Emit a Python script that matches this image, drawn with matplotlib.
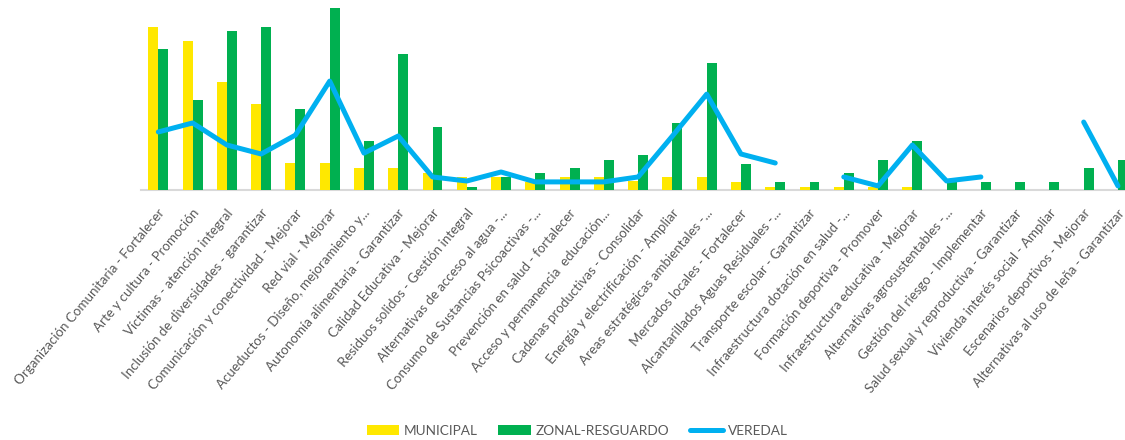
import numpy as np
import matplotlib
matplotlib.use("Agg")
import matplotlib.pyplot as plt
from matplotlib.patches import Patch
from matplotlib.lines import Line2D
from matplotlib.transforms import ScaledTranslation

categories = [
    "Organización Comunitaria - Fortalecer",
    "Arte y cultura - Promoción",
    "Víctimas - atención integral",
    "Inclusión de diversidades - garantizar",
    "Comunicación y conectividad - Mejorar",
    "Red vial - Mejorar",
    "Acueductos - Diseño, mejoramiento y...",
    "Autonomía alimentaria - Garantizar",
    "Calidad Educativa - Mejorar",
    "Residuos solidos - Gestión integral",
    "Alternativas de acceso al agua -...",
    "Consumo de Sustancias Psicoactivas -...",
    "Prevención en salud - fortalecer",
    "Acceso y permanencia  educación...",
    "Cadenas productivas - Consolidar",
    "Energía y electrificación - Ampliar",
    "Areas estratégicas ambientales -...",
    "Mercados locales - Fortalecer",
    "Alcantarillados Aguas Residuales -...",
    "Transporte escolar - Garantizar",
    "Infraestructura dotación en salud -...",
    "Formación deportiva - Promover",
    "Infraestructura educativa - Mejorar",
    "Alternativas agrosustentables -...",
    "Gestión del riesgo - Implementar",
    "Salud sexual y reproductiva - Garantizar",
    "Vivienda interés social - Ampliar",
    "Escenarios deportivos - Mejorar",
    "Alternativas al uso de leña - Garantizar",
]

municipal = [36.2, 33.1, 24.0, 19.1, 6.0, 6.0, 4.9, 4.9, 3.8, 2.9,
             2.9, 1.8, 2.9, 2.9, 2.0, 2.9, 2.9, 1.8, 0.7, 0.7,
             0.7, 0.7, 0.7, 0, 0, 0, 0, 0, 0]

zonal_resguardo = [31.3, 20.0, 35.3, 36.2, 18.0, 40.4, 10.9, 30.2, 14.0, 0.7,
                   2.9, 3.8, 4.9, 6.7, 7.8, 14.9, 28.2, 5.8, 1.8, 1.8,
                   3.8, 6.7, 10.9, 1.8, 1.8, 1.8, 1.8, 4.9, 6.7]

veredal = [12.9, 14.9, 10.0, 8.0, 12.2, 24.2, 8.2, 12.0, 2.9, 2.0,
           4.0, 1.8, 1.8, 1.8, 2.9, 12.0, 21.3, 8.0, 6.0, np.nan,
           2.9, 0.9, 10.0, 2.0, 2.9, np.nan, np.nan, 15.1, 0.9]

series_names = ["MUNICIPAL", "ZONAL-RESGUARDO", "VEREDAL"]

YELLOW = "#FFE800"
GREEN = "#00B050"
BLUE = "#00B0F0"
TEXT = "#595959"

plt.rcParams['font.family'] = ['Lato', 'DejaVu Sans']

W, H = 1125, 440
fig = plt.figure(figsize=(W / 100, H / 100), dpi=100)
left_px, right_px, base_px = 141.2, 1135.1, 190
ax = fig.add_axes([left_px / W, (H - base_px) / H, (right_px - left_px) / W, base_px / H])

x = np.arange(len(categories))
bw = 0.29
ax.bar(x - bw / 2, municipal, width=bw, color=YELLOW, zorder=2)
ax.bar(x + bw / 2, zonal_resguardo, width=bw, color=GREEN, zorder=2)
ax.plot(x, veredal, color=BLUE, lw=3.6, solid_capstyle='round',
        solid_joinstyle='round', zorder=3)

ax.set_xlim(-0.5, len(categories) - 0.5)
ax.set_ylim(0, base_px / 4.5)
for s in ['top', 'right', 'left']:
    ax.spines[s].set_visible(False)
ax.spines['bottom'].set_color('#D9D9D9')
ax.spines['bottom'].set_linewidth(1.5)
ax.spines['bottom'].set_zorder(1)
ax.set_yticks([])
ax.set_xticks(x)
ax.set_xticklabels(categories, rotation=50, ha='right', va='center',
                   rotation_mode='anchor', fontsize=9.6, color=TEXT)
ax.tick_params(axis='x', length=0, pad=15)
shift = ScaledTranslation(4 / 100, 0, fig.dpi_scale_trans)
for lbl in ax.get_xticklabels():
    lbl.set_transform(lbl.get_transform() + shift)

handles = [Patch(facecolor=YELLOW, edgecolor='none'),
           Patch(facecolor=GREEN, edgecolor='none'),
           Line2D([0], [0], color=BLUE, lw=3.6, solid_capstyle='round')]
fig.legend(handles, series_names, loc='center',
           bbox_to_anchor=(577 / W, 1 - 431 / H), ncol=3, frameon=False,
           fontsize=9.8, labelcolor=TEXT, handlelength=2.4, handleheight=0.72,
           handletextpad=0.36, columnspacing=1.5)

fig.savefig("out.png", dpi=100)
